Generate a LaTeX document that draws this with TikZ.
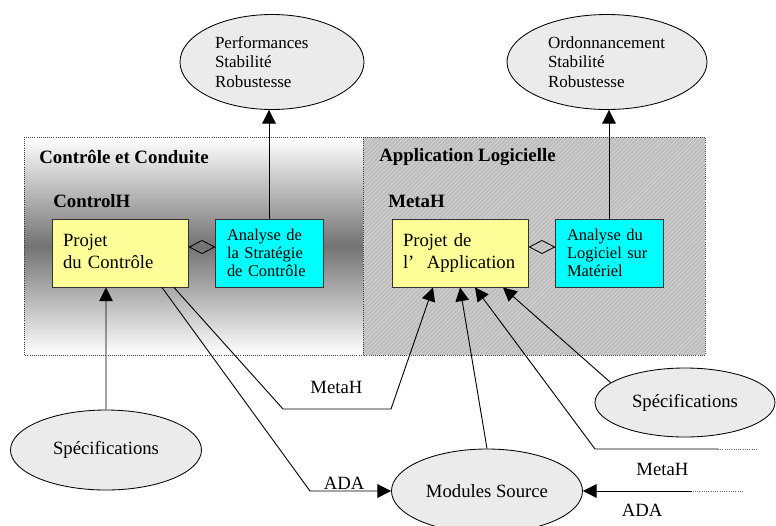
\documentclass[tikz,border=0pt]{standalone}
\usepackage{fontspec}
\setmainfont{Liberation Serif}
\usepackage{tikz}
\usetikzlibrary{arrows.meta,shapes.geometric,patterns}

\definecolor{projyellow}{HTML}{FFFF99}
\definecolor{anacyan}{HTML}{00FFFF}

\begin{document}
\begin{tikzpicture}[
  ell/.style={ellipse, draw, fill=gray!16, line width=0.6pt, inner sep=0pt},
  projbox/.style={draw=black!80, fill=projyellow, line width=0.7pt, minimum width=3.4cm, minimum height=1.7cm,
    text width=2.85cm, inner xsep=0.275cm, align=left, font=\fontsize{13.3}{15.6}\selectfont},
  anabox/.style={draw=black!80, fill=anacyan, line width=0.7pt, minimum width=2.7cm, minimum height=1.7cm,
    text width=2.1cm, inner xsep=0.3cm, align=left, font=\fontsize{11.7}{12.8}\selectfont},
  title/.style={anchor=west, inner sep=0pt, font=\bfseries\fontsize{13.4}{15}\selectfont},
  lbl/.style={inner sep=0pt, font=\fontsize{13.3}{15}\selectfont},
  con/.style={line width=0.65pt, -{Triangle[length=0.34cm,width=0.34cm]}},
  ext/.style={densely dotted, line width=0.6pt, black!60}
]
\useasboundingbox (0,0) rectangle (19.4,-13.125);

\fill[top color=white, bottom color=white, middle color=black!55] (0.6,-3.425) rectangle (9.075,-8.875);
\draw[densely dotted, line width=0.5pt, black!75] (0.6,-3.425) rectangle (9.075,-8.875);
\fill[black!26] (9.075,-3.425) rectangle (17.625,-8.875);
\fill[pattern=north east lines, pattern color=white!85!black] (9.075,-3.425) rectangle (17.625,-8.875);
\draw[densely dotted, line width=0.5pt, black!75] (9.075,-3.425) rectangle (17.625,-8.875);

\node[title] (tcc) at (0.975,-3.925) {Contrôle et Conduite};
\node[title] (tch) at (1.325,-5.025) {ControlH};
\node[title] (tal) at (9.475,-3.925) {Application Logicielle};
\node[title] (tmh) at (9.7,-5.025) {MetaH};

\node[projbox] (pc) at (3.0,-6.325) {Projet\\du Contrôle\vphantom{g}};
\node[anabox] (asc) at (6.725,-6.325) {Analyse de\\la Stratégie\\de Contrôle};
\node[projbox] (pa) at (11.5,-6.325) {Projet de\\l'~~Application};
\node[anabox] (alm) at (15.225,-6.325) {Analyse du\\Logiciel sur\\Matériel};

\node[ell, minimum width=4.6cm, minimum height=2.375cm, text width=2.85cm, align=left,
  font=\fontsize{12.1}{13.9}\selectfont] (pl) at (6.8,-1.55) {Performances\\Stabilité\\Robustesse};
\node[ell, minimum width=5cm, minimum height=2.375cm, text width=2.95cm, align=left,
  font=\fontsize{12.1}{13.9}\selectfont] (pr) at (15.175,-1.55) {Ordonnancement\\Stabilité\\Robustesse};

\node[ell, minimum width=4.775cm, minimum height=2.0cm, font=\fontsize{13.3}{15}\selectfont] (sl) at (2.65,-11.25) {Spécifications};
\node[ell, minimum width=4.5cm, minimum height=1.725cm, font=\fontsize{13.3}{15}\selectfont] (sr) at (17.125,-10.0625) {Spécifications};
\node[ell, minimum width=4.775cm, minimum height=2.1cm, font=\fontsize{13.3}{15}\selectfont] (ms) at (12.175,-12.275) {Modules Source};

\draw[line width=0.6pt, {Diamond[open,length=0.675cm,width=0.35cm]}-] ([yshift=0.15cm]pc.east) -- ([yshift=0.15cm]asc.west);
\draw[line width=0.6pt, {Diamond[open,length=0.675cm,width=0.35cm]}-] ([yshift=0.15cm]pa.east) -- ([yshift=0.15cm]alm.west);

\draw[con] (asc.north) -- (asc.north |- pl.south);
\draw[con] (alm.north) -- (alm.north |- pr.south);
\draw[con] (sl.north) -- ([xshift=-0.35cm]pc.south);

\coordinate (b1) at (7.75,-12.275);
\coordinate (b2) at (7.075,-10.225);
\coordinate (b3) at (9.775,-10.225);
\coordinate (b4) at (14.875,-11.225);
\coordinate (m2) at (17.95,-11.225);
\coordinate (m2end) at (18.925,-11.225);
\coordinate (a2) at (17.3,-12.275);
\coordinate (a2end) at (18.575,-12.275);

\draw[con] ([xshift=1.05cm]pc.south) -- (b1) -- (ms.west);
\draw[con] ([xshift=1.35cm]pc.south) -- (b2) -- (b3) -- ([xshift=-0.675cm]pa.south);
\draw[con] (ms.north) -- (pa.south);
\draw[con] (m2) -- (b4) -- ([xshift=0.375cm]pa.south);
\draw[ext] (m2end) -- (m2);
\draw[con] (sr.165) -- ([xshift=1.075cm]pa.south);
\draw[con] (a2) -- (ms.east);
\draw[ext] (a2end) -- (a2);

\node[lbl] (ada1) at (8.6,-12.075) {ADA};
\node[lbl] (meta1) at (8.41,-9.675) {MetaH};
\node[lbl] (meta2) at (16.56,-11.725) {MetaH};
\node[lbl] (ada2) at (16.05,-12.75) {ADA};
\end{tikzpicture}
\end{document}
